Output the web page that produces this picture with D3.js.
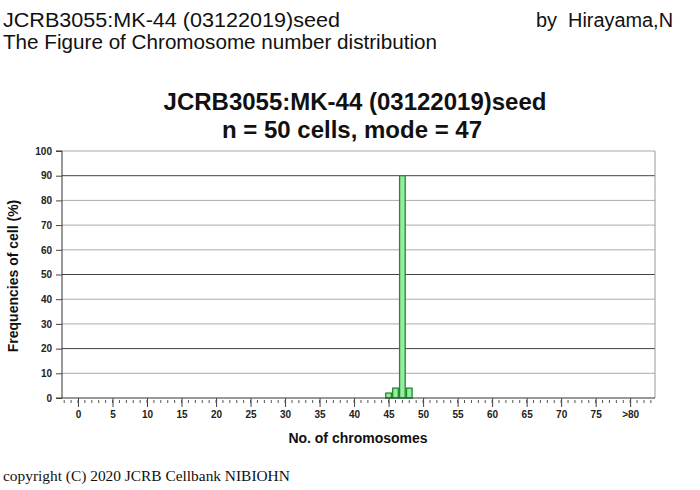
<!DOCTYPE html>
<html>
<head>
<meta charset="utf-8">
<script src="https://cdn.jsdelivr.net/npm/d3@7"></script>
<style>
  body { margin: 0; background: #fff; }
  svg { display: block; }
</style>
</head>
<body>
<div id="chart"></div>
<script>
// chromosome counts and their frequency (%)
const chromosomes = [45, 46, 47, 48];
const frequencies = [2, 4, 90, 4];
const yTicks = [0, 10, 20, 30, 40, 50, 60, 70, 80, 90, 100];
const xTicks = [0, 5, 10, 15, 20, 25, 30, 35, 40, 45, 50, 55, 60, 65, 70, 75, 80];
const xTickLabels = ["0", "5", "10", "15", "20", "25", "30", "35", "40", "45", "50", "55", "60", "65", "70", "75", ">80"];
const darkGrid = [20, 50, 90];

const W = 700, H = 490;
const plotL = 62, plotR = 655, plotT = 151, plotB = 398;

const svg = d3.select("#chart").append("svg")
    .attr("width", W)
    .attr("height", H);

// page header
const head = svg.append("g")
    .attr("font-family", "'Liberation Sans', Arial, sans-serif")
    .attr("font-size", 19.5)
    .attr("fill", "#111");
head.append("text").attr("x", 3).attr("y", 27)
    .attr("textLength", 337).attr("lengthAdjust", "spacingAndGlyphs")
    .text("JCRB3055:MK-44 (03122019)seed");
head.append("text").attr("x", 3).attr("y", 49)
    .attr("textLength", 434).attr("lengthAdjust", "spacingAndGlyphs")
    .text("The Figure of Chromosome number distribution");
head.append("text").attr("x", 673).attr("y", 27).attr("text-anchor", "end")
    .attr("textLength", 137).attr("lengthAdjust", "spacingAndGlyphs")
    .text("by\u00A0 Hirayama,N");

// chart title
const title = svg.append("g")
    .attr("font-family", "'Liberation Sans', Arial, sans-serif")
    .attr("font-weight", "bold")
    .attr("font-size", 24)
    .attr("text-anchor", "middle")
    .attr("fill", "#111");
title.append("text").attr("x", 355).attr("y", 110).text("JCRB3055:MK-44 (03122019)seed");
title.append("text").attr("x", 352).attr("y", 138).text("n = 50 cells, mode = 47");

const x = d3.scaleLinear().domain([-2.32, 83.6]).range([plotL, plotR]);
const y = d3.scaleLinear().domain([0, 100]).range([plotB, plotT]);

// grid
svg.append("g")
    .selectAll("line")
    .data(yTicks.filter(d => d > 0))
    .enter().append("line")
    .attr("x1", plotL).attr("x2", plotR)
    .attr("y1", d => y(d)).attr("y2", d => y(d))
    .attr("stroke", d => darkGrid.includes(d) ? "#444" : "#aaa")
    .attr("stroke-width", 1);

// right frame
svg.append("line")
    .attr("x1", plotR).attr("x2", plotR)
    .attr("y1", plotT).attr("y2", plotB)
    .attr("stroke", "#999");

// bars
const bw = 5.6;
svg.append("g")
    .selectAll("rect")
    .data(chromosomes)
    .enter().append("rect")
    .attr("x", (d) => x(d) - bw / 2)
    .attr("y", (d, i) => y(frequencies[i]))
    .attr("width", bw)
    .attr("height", (d, i) => y(0) - y(frequencies[i]))
    .attr("fill", "#95ee9f")
    .attr("stroke", "#1f8a2e")
    .attr("stroke-width", 1.3);

// y axis
const yAxis = svg.append("g")
    .attr("transform", `translate(${plotL},0)`)
    .call(d3.axisLeft(y).tickValues(yTicks).tickSize(6).tickPadding(4));
yAxis.select(".domain").attr("stroke", "#333").attr("d", `M-6,${plotB}H0V${plotT}H-6`);
yAxis.selectAll(".tick line").attr("stroke", "#444");
yAxis.selectAll(".tick text")
    .attr("font-family", "'Liberation Sans', Arial, sans-serif")
    .attr("font-weight", "bold")
    .attr("font-size", 10)
    .attr("fill", "#222");

// x axis: minor ticks
svg.append("g")
    .selectAll("line")
    .data(d3.range(-2, 84))
    .enter().append("line")
    .attr("x1", d => x(d)).attr("x2", d => x(d))
    .attr("y1", plotB + 2).attr("y2", plotB + 5)
    .attr("stroke", "#555");

const xAxis = svg.append("g")
    .attr("transform", `translate(0,${plotB})`)
    .call(d3.axisBottom(x).tickValues(xTicks).tickSize(9).tickPadding(4)
        .tickFormat((d, i) => xTickLabels[i]));
xAxis.select(".domain").attr("stroke", "#333").attr("d", `M${plotL},0H${plotR}`);
xAxis.selectAll(".tick line").attr("stroke", "#444");
xAxis.selectAll(".tick text")
    .attr("font-family", "'Liberation Sans', Arial, sans-serif")
    .attr("font-weight", "bold")
    .attr("font-size", 10)
    .attr("fill", "#222");

// axis titles
svg.append("text")
    .attr("x", 358).attr("y", 443)
    .attr("text-anchor", "middle")
    .attr("font-family", "'Liberation Sans', Arial, sans-serif")
    .attr("font-weight", "bold")
    .attr("font-size", 14)
    .attr("fill", "#111")
    .text("No. of chromosomes");

svg.append("text")
    .attr("transform", "translate(18,276) rotate(-90)")
    .attr("text-anchor", "middle")
    .attr("font-family", "'Liberation Sans', Arial, sans-serif")
    .attr("font-weight", "bold")
    .attr("font-size", 14)
    .attr("fill", "#111")
    .text("Frequencies of cell (%)");

// footer
svg.append("text")
    .attr("x", 3).attr("y", 481)
    .attr("font-family", "'Liberation Serif', 'Times New Roman', serif")
    .attr("font-size", 15.4)
    .attr("fill", "#111")
    .text("copyright (C) 2020 JCRB Cellbank NIBIOHN");
</script>
</body>
</html>
